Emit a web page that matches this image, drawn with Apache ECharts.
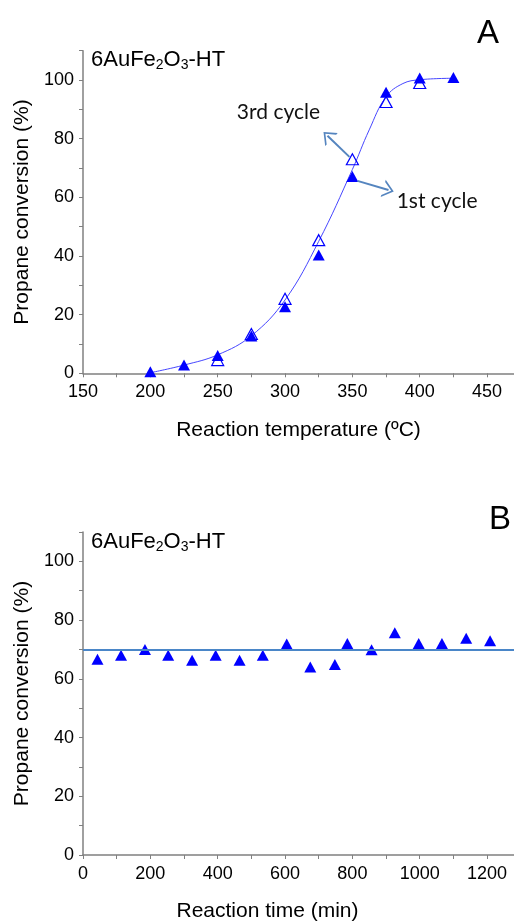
<!DOCTYPE html>
<html>
<head>
<meta charset="utf-8">
<script src="https://cdn.jsdelivr.net/npm/echarts@6/dist/echarts.min.js"></script>
<style>
html,body{margin:0;padding:0;background:#fff;}
#c{width:514px;height:923px;}
</style>
</head>
<body>
<div id="c"></div>
<script>
// ---- Panel A data ----
var temps = [200, 225, 250, 275, 300, 325, 350, 375, 400, 425];
var cycle1 = [0.5, 2.8, 6.1, 12.7, 22.7, 40.3, 67.1, 95.8, 100.7, 100.9];
var temps3 = [250, 275, 300, 325, 350, 375, 400];
var cycle3 = [4.5, 13.4, 25.4, 45.4, 73.0, 92.5, 99.0];
// fitted curve
var fitTemps = [200, 225, 250, 275, 300, 325, 350, 362.5, 375, 387.5, 400, 425];
var fitCurve = [0.2, 2.8, 6.3, 12.8, 25.0, 45.0, 69.5, 83.0, 94.3, 98.8, 100.1, 100.6];
var tempTicks = [150, 200, 250, 300, 350, 400, 450];
var tempMinorTicks = [150, 175, 200, 225, 250, 275, 300, 325, 350, 375, 400, 425, 450];

// ---- Panel B data ----
var times = [43, 113, 184, 253, 324, 394, 465, 534, 605, 675, 748, 785, 857, 926, 997, 1066, 1138, 1209];
var conv = [66.7, 68.0, 70.0, 68.0, 66.3, 68.0, 66.3, 68.0, 71.9, 64.0, 64.9, 72.0, 69.9, 75.7, 72.0, 72.0, 73.8, 73.0];
var avgConv = 69.8;
var timeTicks = [0, 200, 400, 600, 800, 1000, 1200];
var timeMinorTicks = [0, 100, 200, 300, 400, 500, 600, 700, 800, 900, 1000, 1100, 1200];

var yTicks = [0, 20, 40, 60, 80, 100];
var yMinorTicks = [0, 10, 20, 30, 40, 50, 60, 70, 80, 90, 100, 110];

function pairs(xs, ys) { return xs.map(function (x, i) { return [x, ys[i]]; }); }

var FONT = 'Liberation Sans';
var axisGray = '#808080';
var blue = '#0000ff';
var arrowBlue = '#5585bf';

var chevron = 'path://M0,10 L5,0 L10,10 L8.8,10 L5,2.4 L1.2,10 Z';

function xAxisCfg(idx, min, max, ticks, minors, name, namePad) {
  return {
    gridIndex: idx, type: 'value', min: min, max: max,
    axisLine: { show: true, onZero: false, lineStyle: { color: axisGray, width: 1.5 } },
    axisTick: { show: true, customValues: minors, length: 4, lineStyle: { color: axisGray, width: 1 } },
    axisLabel: { customValues: ticks, color: '#000', fontFamily: FONT, fontSize: 18, margin: 10,
      formatter: function (v) { return String(v); } },
    splitLine: { show: false },
    name: name, nameLocation: 'middle', nameGap: 46,
    nameTextStyle: { color: '#000', fontFamily: FONT, fontSize: 21, padding: namePad }
  };
}
function yAxisCfg(idx) {
  return {
    gridIndex: idx, type: 'value', min: 0, max: 110,
    axisLine: { show: true, lineStyle: { color: axisGray, width: 1.5 } },
    axisTick: { show: true, customValues: yMinorTicks, length: 4, lineStyle: { color: axisGray, width: 1 } },
    axisLabel: { customValues: yTicks, color: '#000', fontFamily: FONT, fontSize: 18, margin: 9 },
    splitLine: { show: false },
    name: 'Propane conversion (%)', nameLocation: 'middle', nameGap: 50,
    nameTextStyle: { color: '#000', fontFamily: FONT, fontSize: 21 }
  };
}

var richTitle = {
  a: { fontFamily: FONT, fontSize: 22, fontWeight: 'normal', color: '#000', lineHeight: 26 },
  s: { fontFamily: FONT, fontSize: 14, fontWeight: 'normal', color: '#000', lineHeight: 26, padding: [11, 0, 0, 0] }
};
var titleText = '{a|6AuFe}{s|2}{a|O}{s|3}{a|-HT}';

var chart = echarts.init(document.getElementById('c'), null, { renderer: 'canvas' });
chart.setOption({
  animation: false,
  backgroundColor: '#fff',
  title: [
    { text: titleText, left: 86, top: 42, textStyle: { fontWeight: 'normal', rich: richTitle } },
    { text: titleText, left: 86, top: 524, textStyle: { fontWeight: 'normal', rich: richTitle } },
    { text: 'A', left: 472, top: 12, textStyle: { fontFamily: FONT, fontSize: 33, fontWeight: 'normal', color: '#000' } },
    { text: 'B', left: 484, top: 498, textStyle: { fontFamily: FONT, fontSize: 33, fontWeight: 'normal', color: '#000' } }
  ],
  grid: [
    { left: 83, right: 0, top: 50.7, height: 322.6 },
    { left: 83, right: 0, top: 532, height: 323 }
  ],
  xAxis: [
    xAxisCfg(0, 150, 470, tempTicks, tempMinorTicks, 'Reaction temperature (ºC)', [0, 0, 0, 0]),
    xAxisCfg(1, 0, 1280, timeTicks, timeMinorTicks, 'Reaction time (min)', [0, 62, 0, 0])
  ],
  yAxis: [yAxisCfg(0), yAxisCfg(1)],
  series: [
    {
      name: 'fit', type: 'line', xAxisIndex: 0, yAxisIndex: 0,
      data: pairs(fitTemps, fitCurve), smooth: 0.4,
      showSymbol: false, symbol: 'none',
      lineStyle: { color: '#4646ff', width: 1 }, z: 1,
      markLine: {
        silent: true, symbol: ['none', chevron], symbolSize: [18, 11],
        lineStyle: { color: arrowBlue, width: 2, type: 'solid' },
        label: { show: false },
        data: [
          [{ coord: [347.8, 73.8] }, { coord: [331.5, 81.0] }],
          [{ coord: [353.8, 65.6] }, { coord: [376.8, 62.5] }]
        ]
      },
      markPoint: {
        silent: true, symbol: 'rect', symbolSize: 1,
        itemStyle: { color: 'rgba(0,0,0,0)' },
        label: { show: true, position: 'inside', color: '#111', fontFamily: 'Lato', fontSize: 21 },
        data: [
          { coord: [295.1, 89.1], value: '3rd cycle', label: { formatter: '3rd cycle' } },
          { coord: [412.9, 58.8], value: '1st cycle', label: { formatter: '1st cycle' } }
        ]
      }
    },
    {
      name: '3rd cycle', type: 'scatter', xAxisIndex: 0, yAxisIndex: 0,
      data: pairs(temps3, cycle3), symbol: 'triangle', symbolSize: [12, 11],
      itemStyle: { color: 'rgba(255,255,255,0)', borderColor: blue, borderWidth: 1.2, opacity: 1 }, z: 3
    },
    {
      name: '1st cycle', type: 'scatter', xAxisIndex: 0, yAxisIndex: 0,
      data: pairs(temps, cycle1), symbol: 'triangle', symbolSize: [12, 11],
      itemStyle: { color: blue, opacity: 1 }, z: 2
    },
    {
      name: 'stability', type: 'scatter', xAxisIndex: 1, yAxisIndex: 1,
      data: pairs(times, conv), symbol: 'triangle', symbolSize: [12, 11],
      itemStyle: { color: blue, opacity: 1 }, z: 3,
      markLine: {
        silent: true, symbol: 'none',
        lineStyle: { color: '#4a86c8', width: 2, type: 'solid' },
        label: { show: false },
        data: [{ yAxis: avgConv }]
      }
    }
  ]
});
</script>
</body>
</html>
